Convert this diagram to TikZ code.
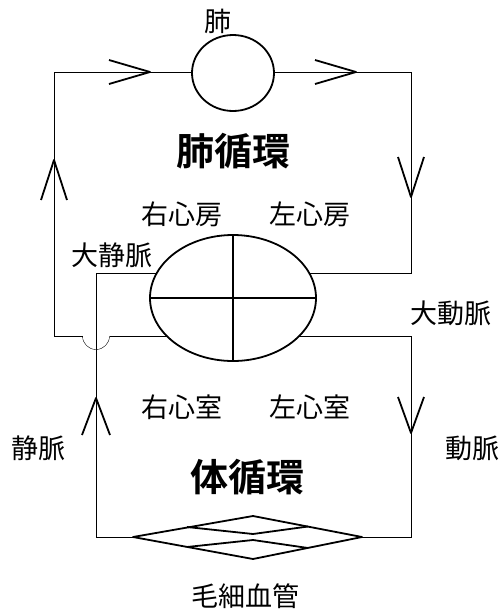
\documentclass[tikz,border=0pt]{standalone}
\usepackage{fontspec}
\newfontfamily\cjk{Noto Sans CJK JP}
\newfontfamily\cjkbold{Noto Sans CJK JP Bold}
\usetikzlibrary{shapes.geometric,calc,backgrounds}
\begin{document}
\begin{tikzpicture}[x=1pt,y=-1pt,line width=1.8pt,line join=round,
  lbl/.style={font=\cjk\fontsize{27}{27}\selectfont, inner sep=0pt},
  ttl/.style={font=\cjkbold\fontsize{38}{38}\selectfont, inner sep=0pt},
  organ/.style={draw, ellipse, fill=white, inner sep=0pt}]
\useasboundingbox (0,0) rectangle (500,614);
% organs
\node[organ, minimum width=82pt, minimum height=76pt] (lung) at (233,73) {};
\node[organ, minimum width=166pt, minimum height=126pt] (heart) at (233,298) {};
\draw (heart.north) -- (heart.south);
\draw (heart.west) -- (heart.east);
% capillaries
\coordinate (capW) at (133,537);
\coordinate (capN) at (253,516);
\coordinate (capE) at (362,537);
\coordinate (capS) at (253,559);
\draw[fill=white] (capW) -- (capN) -- (capE) -- (capS) -- cycle;
\draw (187,527) -- (253,534) -- (308,526.5);
\draw (187,547) -- (253,540) -- (308,548);
% corners
\coordinate (tl) at (54,72);
\coordinate (tr) at (411,72);
\coordinate (rA) at (411,273);
\coordinate (lvBot) at (54,336);
\coordinate (bumpL) at (82.5,336);
\coordinate (bumpR) at (109.5,336);
\coordinate (aoR) at (411,336);
\coordinate (capR) at (411,537);
\coordinate (capL) at (96,537);
\coordinate (vcTop) at (96,273);
\begin{scope}[on background layer]
\draw (heart.center |- rA) -- (rA) -- (tr) -- (tl) -- (lvBot) -- (bumpL);
\draw (bumpL) arc[start angle=180,end angle=360,x radius=13.5pt,y radius=13.5pt];
\draw (bumpR) -- (heart.center |- lvBot);
\draw (heart.center |- aoR) -- (aoR) -- (capR) -- (capE);
\draw (capW) -- (capL) -- (vcTop) -- (heart.center |- vcTop);
\end{scope}
% chevrons
\coordinate (a1) at (150,72);
\coordinate (a2) at (356,72);
\coordinate (a3) at (54,160);
\coordinate (a4) at (411,197);
\coordinate (a5) at (96,398);
\coordinate (a6) at (411,433);
\draw (a1) ++(-41,-12) -- (a1) -- ++(-41,12);
\draw (a2) ++(-41,-12) -- (a2) -- ++(-41,12);
\draw (a3) ++(-13,40) -- (a3) -- ++(13,40);
\draw (a4) ++(-13,-40) -- (a4) -- ++(13,-40);
\draw (a5) ++(-14,37) -- (a5) -- ++(14,37);
\draw (a6) ++(-13,-36) -- (a6) -- ++(13,-36);
% labels
\node[lbl] (tlung) at (218,21) {肺};
\node[ttl] (tpul) at (233,151) {肺循環};
\node[lbl] (tra) at (182,214) {右心房};
\node[lbl] (tla) at (310,214) {左心房};
\node[lbl] (tvc) at (112,255) {大静脈};
\node[lbl] (tao) at (451,313) {大動脈};
\node[lbl] (trv) at (182,407) {右心室};
\node[lbl] (tlv) at (310,407) {左心室};
\node[lbl] (tv) at (39,448) {静脈};
\node[lbl] (ta) at (472,448) {動脈};
\node[ttl] (tsys) at (247,477) {体循環};
\node[lbl] (tcap) at (245,596) {毛細血管};
\end{tikzpicture}
\end{document}
